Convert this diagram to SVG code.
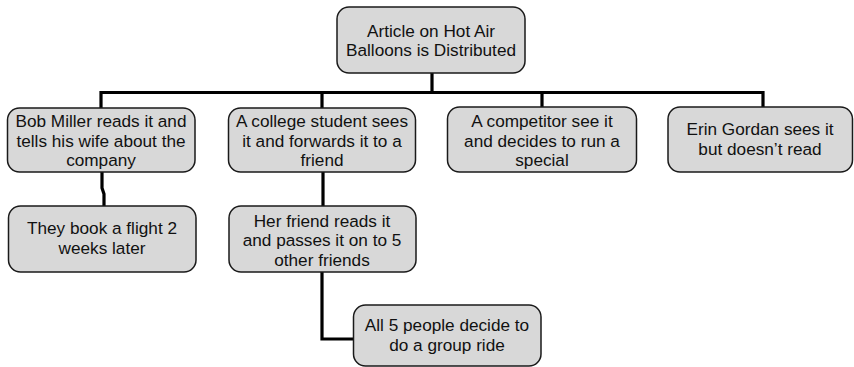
<svg xmlns="http://www.w3.org/2000/svg" width="854" height="367" viewBox="0 0 854 367">
<style>
.box{fill:#d8d8d8;stroke:#1a1a1a;stroke-width:1.5}
.t{font-family:"Liberation Sans",Arial,sans-serif;font-size:17.2px;fill:#111;text-anchor:middle}
.c{fill:none;stroke:#000;stroke-width:3.2}
</style>
<rect width="854" height="367" fill="#fff"/>
<g id="connectors">
<path class="c" d="M432 73V92.5M101 108V92.5H763V107M322 92.5V108M542 92.5V107"/>
<path class="c" d="M102 172V188L104 194V206"/>
<path class="c" d="M323 172V206"/>
<path class="c" d="M322 272V339H353"/>
</g>
<g id="n0"><rect class="box" x="337" y="7" width="188" height="66" rx="12"/>
<text class="t" x="431" y="37">Article on Hot Air</text><text class="t" x="431" y="55.5">Balloons is Distributed</text></g>
<g id="n1"><rect class="box" x="7.5" y="108" width="187.5" height="64" rx="12"/>
<text class="t" x="101" y="127">Bob Miller reads it and</text><text class="t" x="101" y="146.5">tells his wife about the</text><text class="t" x="101" y="166">company</text></g>
<g id="n2"><rect class="box" x="228.5" y="108" width="187" height="64" rx="12"/>
<text class="t" x="322" y="127">A college student sees</text><text class="t" x="322" y="146.5">it and forwards it to a</text><text class="t" x="322" y="166">friend</text></g>
<g id="n3"><rect class="box" x="447.5" y="107" width="189" height="65" rx="12"/>
<text class="t" x="542" y="127">A competitor see it</text><text class="t" x="542" y="146.5">and decides to run a</text><text class="t" x="542" y="166">special</text></g>
<g id="n4"><rect class="box" x="668" y="107" width="184.5" height="65" rx="12"/>
<text class="t" x="760" y="135">Erin Gordan sees it</text><text class="t" x="760" y="154.5">but doesn’t read</text></g>
<g id="n5"><rect class="box" x="8.5" y="206" width="187.5" height="66" rx="12"/>
<text class="t" x="102" y="234">They book a flight 2</text><text class="t" x="102" y="253.5">weeks later</text></g>
<g id="n6"><rect class="box" x="229" y="206" width="187" height="66" rx="12"/>
<text class="t" x="322" y="226.5">Her friend reads it</text><text class="t" x="322" y="246">and passes it on to 5</text><text class="t" x="322" y="265.5">other friends</text></g>
<g id="n7"><rect class="box" x="353.5" y="305" width="187.5" height="61" rx="12"/>
<text class="t" x="447" y="331">All 5 people decide to</text><text class="t" x="447" y="350.5">do a group ride</text></g>
</svg>
